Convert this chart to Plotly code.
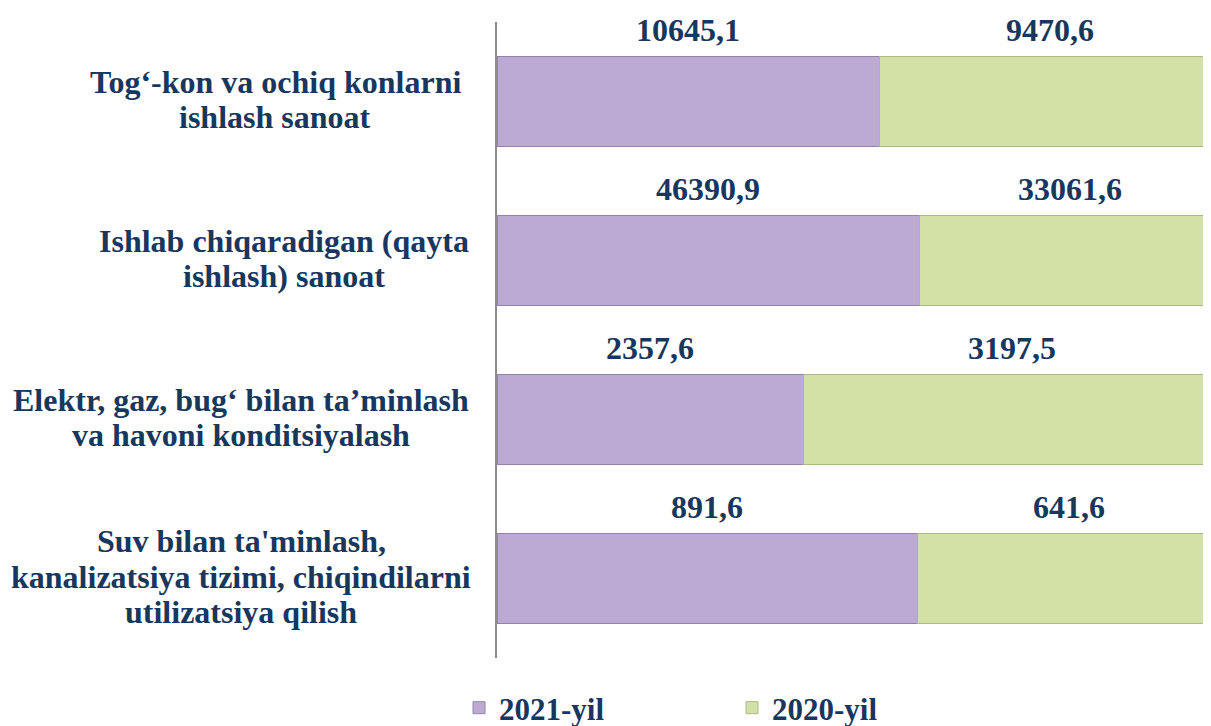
import plotly.graph_objects as go

categories = [
    "Tog‘-kon va ochiq konlarni ishlash sanoat",
    "Ishlab chiqaradigan (qayta ishlash) sanoat",
    "Elektr, gaz, bug‘ bilan ta’minlash va havoni konditsiyalash",
    "Suv bilan ta'minlash, kanalizatsiya tizimi, chiqindilarni utilizatsiya qilish",
]
category_lines = [
    ["Tog‘-kon va ochiq konlarni", "ishlash sanoat"],
    ["Ishlab chiqaradigan (qayta", "ishlash) sanoat"],
    ["Elektr, gaz, bug‘ bilan ta’minlash", "va havoni konditsiyalash"],
    ["Suv bilan ta'minlash,", "kanalizatsiya tizimi, chiqindilarni", "utilizatsiya qilish"],
]
values_2021 = [10645.1, 46390.9, 2357.6, 891.6]
values_2020 = [9470.6, 33061.6, 3197.5, 641.6]
labels_2021 = ["10645,1", "46390,9", "2357,6", "891,6"]
labels_2020 = ["9470,6", "33061,6", "3197,5", "641,6"]

TXT = "#17375E"
FONT = "Liberation Serif, Times New Roman, serif"

fig = go.Figure()
fig.add_trace(go.Bar(
    y=categories, x=values_2021, orientation="h", name="<b>2021-yil</b>",
    marker=dict(color="#BDAAD2", line=dict(color="#9384AC", width=1)),
))
fig.add_trace(go.Bar(
    y=categories, x=values_2020, orientation="h", name="<b>2020-yil</b>",
    marker=dict(color="#D2E2A7", line=dict(color="#A9BA82", width=1)),
))

# horizontal centre of each category label block (pixels from the plot's left edge)
label_centres = [-222, -213, -256, -256]

annotations = []
for cat, lines, cx, a, b, la, lb in zip(categories, category_lines, label_centres,
                                        values_2021, values_2020, labels_2021, labels_2020):
    tot = a + b
    pa = a / tot * 100
    pb = b / tot * 100
    annotations.append(dict(x=pa / 2, y=cat, xref="x", yref="y", text="<b>" + la + "</b>",
                            showarrow=False, yshift=72, yanchor="middle",
                            font=dict(family=FONT, size=32, color=TXT)))
    annotations.append(dict(x=pa + pb / 2, y=cat, xref="x", yref="y", text="<b>" + lb + "</b>",
                            showarrow=False, yshift=72, yanchor="middle",
                            font=dict(family=FONT, size=32, color=TXT)))
    n = len(lines)
    for i, line in enumerate(lines):
        off = (i - (n - 1) / 2) * 35.5 - 2
        annotations.append(dict(x=0, y=cat, xref="paper", yref="y", text="<b>" + line + "</b>",
                                showarrow=False, xanchor="center", yanchor="middle",
                                xshift=cx, yshift=-off,
                                font=dict(family=FONT, size=32, color=TXT)))

fig.update_layout(
    barmode="stack", barnorm="percent", bargap=0.434,
    width=1195, height=718,
    margin=dict(l=489, r=0, t=14, b=68),
    paper_bgcolor="white", plot_bgcolor="white",
    font=dict(family=FONT, size=31, color=TXT),
    showlegend=True,
    legend=dict(orientation="h", traceorder="normal", x=-0.0538, xanchor="left",
                yref="container", y=0.025, yanchor="middle",
                entrywidth=228, entrywidthmode="pixels", itemwidth=30,
                font=dict(family=FONT, size=31, color=TXT)),
    annotations=annotations,
    xaxis=dict(range=[0, 97.65], showticklabels=False, showgrid=False,
               zeroline=False, showline=False, fixedrange=True),
    yaxis=dict(range=[3.5, -0.5], autorange=False, showticklabels=False, showgrid=False,
               showline=True, linecolor="#8C8C8C", linewidth=1.5, ticks="",
               zeroline=False),
)

fig.write_html("out.html")
